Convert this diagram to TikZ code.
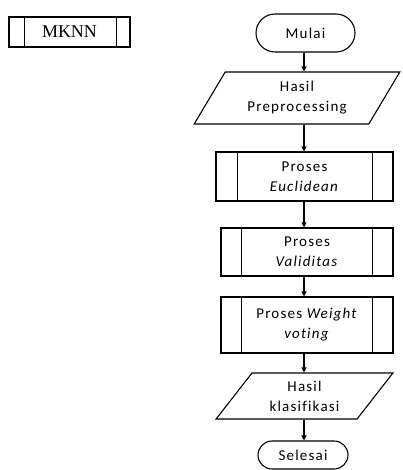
\documentclass[tikz,border=0pt]{standalone}
\usepackage{fontspec}
\setmainfont{Carlito}[LetterSpace=8, Ligatures=NoCommon]
\newfontfamily\tnr{Liberation Serif}
\usetikzlibrary{shapes.geometric,shapes.misc,arrows.meta}
\begin{document}
\begin{tikzpicture}[x=1pt,y=-1pt,
  every node/.style={font=\fontsize{15}{20}\selectfont, align=center, line width=1.1pt, inner sep=0pt},
  term/.style={draw, rounded rectangle},
  sub/.style={draw, rectangle},
  io/.style={draw, trapezium, trapezium stretches=true},
  arr/.style={line width=1.1pt, -{Triangle[length=5pt,width=5pt]}},
  inner/.style={line width=1.1pt}]
\useasboundingbox (0,0) rectangle (402,470);
\node[sub, minimum width=121pt, minimum height=30pt, font=\tnr\fontsize{18}{20}\selectfont] (mknn) at (69.5,32) {MKNN};
\draw[inner] ([xshift=16pt]mknn.north west) -- ([xshift=16pt]mknn.south west);
\draw[inner] ([xshift=-14pt]mknn.north east) -- ([xshift=-14pt]mknn.south east);

\coordinate (ax) at (304,0);
\node[term, minimum width=99pt, minimum height=38pt] (mulai) at (305.5,33) {Mulai};
\node[io, trapezium left angle=57, trapezium right angle=123, minimum width=206pt, minimum height=52pt] (hp) at (297,98) {Hasil\\Preprocessing};
\node[sub, minimum width=177pt, minimum height=49pt] (euc) at (304.5,176.5) {Proses\\\textit{Euclidean}};
\draw[inner] ([xshift=22pt]euc.north west) -- ([xshift=22pt]euc.south west);
\draw[inner] ([xshift=-21pt]euc.north east) -- ([xshift=-21pt]euc.south east);
\node[sub, minimum width=172pt, minimum height=48pt] (val) at (307,252) {Proses\\\textit{Validitas}};
\draw[inner] ([xshift=21pt]val.north west) -- ([xshift=21pt]val.south west);
\draw[inner] ([xshift=-21pt]val.north east) -- ([xshift=-21pt]val.south east);
\node[sub, minimum width=172pt, minimum height=56pt] (wv) at (307,325) {Proses \textit{Weight}\\\textit{voting}};
\draw[inner] ([xshift=21pt]wv.north west) -- ([xshift=21pt]wv.south west);
\draw[inner] ([xshift=-21pt]wv.north east) -- ([xshift=-21pt]wv.south east);
\node[io, trapezium left angle=52, trapezium right angle=128, minimum width=177pt, minimum height=46pt] (hk) at (304.5,396) {Hasil\\klasifikasi};
\node[term, minimum width=90pt, minimum height=28pt] (sel) at (303,455) {Selesai};

\draw[arr] (mulai.south -| ax) -- (hp.north -| ax);
\draw[arr] (hp.south -| ax) -- (euc.north -| ax);
\draw[arr] (euc.south -| ax) -- (val.north -| ax);
\draw[arr] (val.south -| ax) -- (wv.north -| ax);
\draw[arr] (wv.south -| ax) -- (hk.north -| ax);
\draw[arr] (hk.south -| ax) -- (sel.north -| ax);
\end{tikzpicture}
\end{document}
